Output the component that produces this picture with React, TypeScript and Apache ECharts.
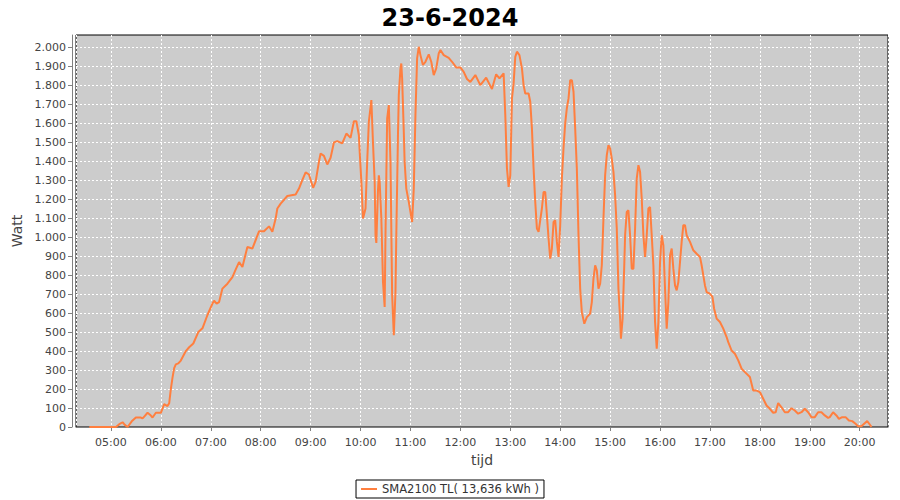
import React, { useEffect, useRef } from "react";
import * as echarts from "echarts";

const chartTitle = "23-6-2024";
const seriesName = "SMA2100 TL( 13,636 kWh )";
const yAxisName = "Watt";
const xAxisName = "tijd";

const times = [
  "04:34","05:06","05:10","05:14","05:17","05:20","05:25","05:30","05:36","05:38","05:40","05:44","05:48","05:50","05:54",
  "06:00","06:04","06:08","06:10","06:12","06:14","06:16","06:18","06:21","06:24","06:30","06:34","06:39","06:45","06:50","06:56",
  "07:02","07:04","07:07","07:10","07:14","07:20","07:26","07:30","07:34","07:38","07:44","07:50","07:58",
  "08:04","08:10","08:14","08:18","08:20","08:24","08:32","08:42","08:46","08:50","08:54","08:58",
  "09:03","09:06","09:10","09:12","09:16","09:20","09:24","09:28","09:32","09:38","09:43","09:48","09:52","09:55","09:58","09:59",
  "10:01","10:03","10:06","10:08","10:10","10:13","10:15","10:17","10:18","10:19","10:21","10:22","10:23","10:25","10:27","10:29",
  "10:30","10:32","10:34","10:36","10:38","10:40","10:42","10:43","10:45","10:46","10:48","10:49","10:50","10:52","10:53","10:55","10:58",
  "11:00","11:02","11:04","11:06","11:08","11:10","11:12","11:15","11:18","11:22","11:25","11:28","11:31","11:34","11:36","11:40","11:46","11:50","11:55",
  "12:00","12:04","12:08","12:12","12:18","12:24","12:31","12:38","12:43","12:47","12:52","12:54","12:56","12:58",
  "13:00","13:02","13:04","13:06","13:08","13:11","13:14","13:16","13:18","13:22","13:24","13:26","13:28","13:30","13:32","13:34","13:38",
  "13:40","13:42","13:44","13:46","13:48","13:50","13:52","13:54","13:56","13:58",
  "14:00","14:02","14:04","14:06","14:08","14:10","14:12","14:14","14:16","14:18","14:20","14:22","14:24","14:26","14:29","14:32","14:36","14:38",
  "14:40","14:42","14:44","14:46","14:48","14:50","14:52","14:54","14:56","14:58",
  "15:00","15:02","15:04","15:06","15:08","15:10","15:12","15:13","15:15","15:17","15:18","15:20","15:22","15:24","15:26","15:28",
  "15:30","15:32","15:34","15:36","15:38","15:40","15:42","15:44","15:46","15:48","15:50","15:52","15:54","15:56","15:58",
  "16:00","16:02","16:04","16:06","16:08","16:10","16:12","16:14","16:16","16:18","16:20","16:22","16:24","16:26","16:28",
  "16:30","16:32","16:36","16:40","16:44","16:48","16:50","16:52","16:54","16:56",
  "17:00","17:03","17:05","17:08","17:12","17:16","17:20","17:22","17:26","17:30","17:34","17:38","17:42","17:48","17:52","17:56",
  "18:00","18:04","18:08","18:12","18:16","18:19","18:22","18:26","18:30","18:34","18:38","18:42","18:46","18:50","18:54","18:58",
  "19:02","19:06","19:10","19:14","19:18","19:22","19:24","19:28","19:32","19:35","19:39","19:43","19:47","19:51","19:55","19:58",
  "20:02","20:06","20:09","20:13","20:14"
];

const watts = [
  0,0,15,25,10,0,30,50,50,45,55,75,60,50,75,
  75,120,110,125,200,260,310,330,335,350,400,420,440,500,520,590,
  650,665,650,658,729,755,790,830,869,843,948,940,1031,
  1031,1057,1028,1098,1151,1177,1217,1225,1256,1300,1341,1330,
  1260,1291,1397,1441,1428,1383,1418,1499,1506,1494,1546,1523,1611,1611,1537,1449,
  1291,1098,1151,1397,1608,1722,1494,1291,1010,970,1250,1326,1291,1100,764,632,
  1010,1625,1696,1397,694,483,711,1010,1537,1748,1889,1915,1836,1555,1397,1256,1186,
  1133,1080,1256,1643,1942,2003,1959,1907,1924,1963,1924,1854,1889,1968,1986,1959,1945,1924,1894,
  1894,1871,1833,1818,1854,1801,1840,1780,1858,1836,1863,1643,1362,1265,
  1326,1731,1810,1950,1977,1959,1889,1801,1757,1757,1713,1573,1362,1186,1045,1028,1151,
  1238,1238,1116,993,887,940,1080,1089,975,896,
  1063,1309,1470,1600,1680,1731,1827,1827,1766,1573,1362,1010,729,605,544,579,597,658,
  782,852,825,729,755,852,1098,1326,1432,1485,
  1467,1414,1344,1221,1045,729,571,465,571,852,1010,1133,1142,1010,834,834,
  1045,1309,1379,1344,1204,1010,896,1010,1151,1159,1010,852,553,412,553,
  869,1010,957,729,518,658,904,940,834,746,720,764,869,975,1063,
  1063,1010,975,931,913,896,852,799,746,711,
  702,685,623,571,553,518,474,447,403,386,351,307,289,263,192,192,
  184,149,113,96,75,78,126,104,78,78,99,87,70,78,96,78,
  52,52,78,78,61,48,52,78,61,43,52,52,34,31,17,4,
  4,20,31,8,0
];

const yTicks = [0,100,200,300,400,500,600,700,800,900,1000,1100,1200,1300,1400,1500,1600,1700,1800,1900,2000];
const axisStart = "04:18";
const axisEnd = "20:34";
const yMax = 2065;

function ts(hhmm: string): number {
  const [h, m] = hhmm.split(":").map(Number);
  return new Date(2024, 5, 23, h, m, 0).getTime();
}
function pad(n: number): string {
  return n < 10 ? "0" + n : String(n);
}
function fmtWatt(v: number): string {
  const n = Math.round(v);
  if (n >= 1000) {
    const th = Math.floor(n / 1000);
    const rest = n % 1000;
    return th + "." + String(rest).padStart(3, "0");
  }
  return String(n);
}

const FONT = "DejaVu Sans";

export default function App() {
  const ref = useRef<HTMLDivElement>(null);
  useEffect(() => {
    if (!ref.current) return;
    const chart = echarts.init(ref.current, undefined, { renderer: "svg" });
    const data = times.map((t, i) => [ts(t), watts[i]]);
    chart.setOption({
      animation: false,
      backgroundColor: "#ffffff",
      textStyle: { fontFamily: FONT },
      title: {
        text: chartTitle,
        left: "center",
        top: 1,
        textStyle: { fontFamily: FONT, fontSize: 24, fontWeight: "bold", color: "#000000" },
      },
      grid: {
        left: 76,
        right: 12,
        top: 35,
        bottom: 73,
        show: true,
        backgroundColor: "#cccccc",
        borderColor: "#000000",
        borderWidth: 1,
        containLabel: false,
      },
      legend: {
        bottom: 2,
        left: "center",
        data: [seriesName],
        icon: "rect",
        itemWidth: 16,
        itemHeight: 2,
        itemGap: 6,
        borderColor: "#000000",
        borderWidth: 1,
        borderRadius: 0,
        padding: [3, 5, 3, 5],
        textStyle: { fontFamily: FONT, fontSize: 11.5, color: "#333333" },
      },
      xAxis: {
        type: "time",
        min: ts(axisStart),
        max: ts(axisEnd),
        minInterval: 3600 * 1000,
        maxInterval: 3600 * 1000,
        offset: 4,
        name: xAxisName,
        nameLocation: "middle",
        nameGap: 20,
        nameTextStyle: { fontFamily: FONT, fontSize: 14, color: "#444444" },
        axisLine: { show: true, lineStyle: { color: "#808080", width: 1 } },
        axisTick: { show: true, length: 4, inside: false, lineStyle: { color: "#808080" } },
        axisLabel: {
          showMinLabel: false,
          showMaxLabel: false,
          fontFamily: FONT,
          fontSize: 11,
          color: "#444444",
          margin: 6,
          formatter: (v: number) => {
            const d = new Date(v);
            return pad(d.getHours()) + ":" + pad(d.getMinutes());
          },
        },
        splitLine: { show: true, lineStyle: { color: "#ffffff", type: [2, 2], width: 1 } },
      },
      yAxis: {
        type: "value",
        min: 0,
        max: yMax,
        interval: 100,
        offset: 4,
        name: yAxisName,
        nameLocation: "middle",
        nameGap: 48,
        nameRotate: 90,
        nameTextStyle: { fontFamily: FONT, fontSize: 14, color: "#444444" },
        axisLine: { show: true, lineStyle: { color: "#808080", width: 1 } },
        axisTick: { show: true, length: 4, inside: false, customValues: yTicks, lineStyle: { color: "#808080" } },
        axisLabel: {
          customValues: yTicks,
          fontFamily: FONT,
          fontSize: 11,
          color: "#444444",
          margin: 6,
          formatter: (v: number) => fmtWatt(v),
        },
        splitLine: { show: true, lineStyle: { color: "#ffffff", type: [2, 2], width: 1 } },
      },
      series: [
        {
          name: seriesName,
          type: "line",
          data,
          showSymbol: false,
          symbol: "none",
          color: "#ff7f3f",
          lineStyle: { color: "#ff7f3f", width: 2 },
        },
      ],
    });
    return () => chart.dispose();
  }, []);
  return (
    <div
      ref={ref}
      style={{ position: "fixed", left: 0, top: 0, width: 900, height: 500 }}
    />
  );
}
